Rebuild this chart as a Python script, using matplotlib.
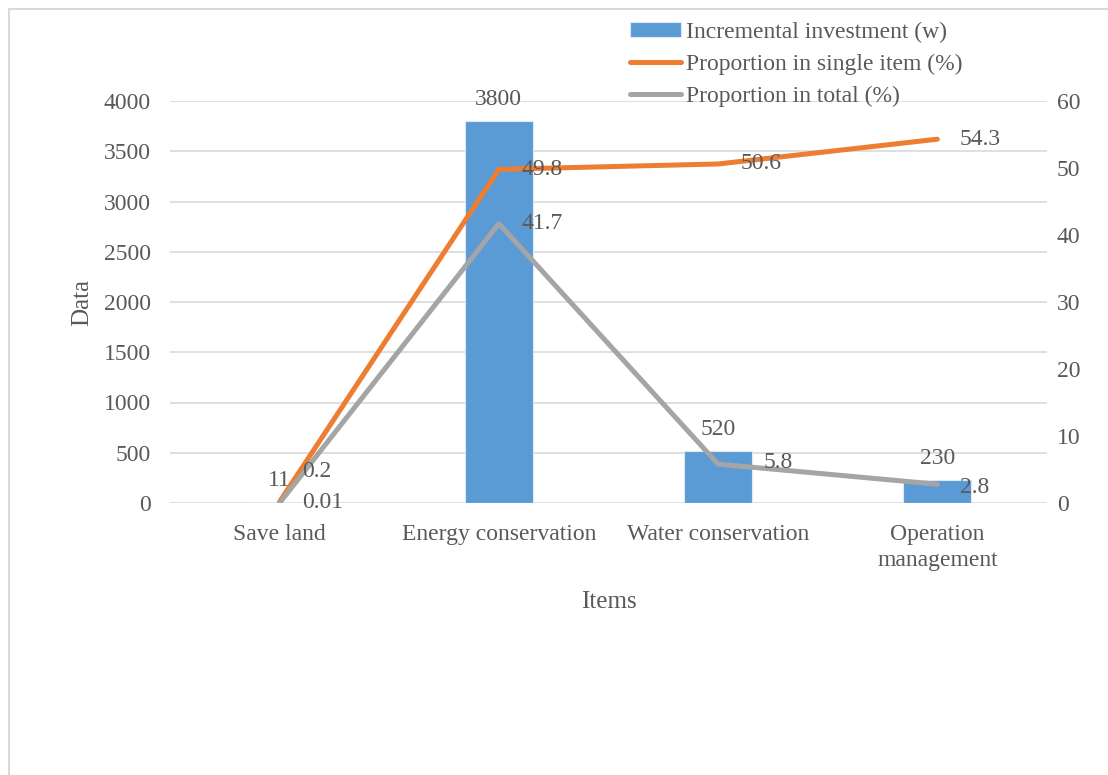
import matplotlib.pyplot as plt
import matplotlib.patches as mpatches
import numpy as np

plt.rcParams['font.family'] = ['Liberation Serif', 'DejaVu Serif']
plt.rcParams['text.color'] = '#595959'

# data
items = ['Save land', 'Energy conservation', 'Water conservation', 'Operation\nmanagement']
investment = [11, 3800, 520, 230]
single_item = [0.2, 49.8, 50.6, 54.3]
total = [0.01, 41.7, 5.8, 2.8]
single_labels = ['0.2', '49.8', '50.6', '54.3']
total_labels = ['0.01', '41.7', '5.8', '2.8']

blue = '#5B9BD5'
orange = '#ED7D31'
grey = '#A5A5A5'
txt = '#595959'
fs = 17

fig = plt.figure(figsize=(11.08, 7.75), dpi=100)
ax = fig.add_axes([170/1108, 1-503/775, 877/1108, 402/775])
x = np.arange(len(items))

bars = ax.bar(x, investment, width=0.31, color=blue, edgecolor='#dbe8f5', linewidth=0.8, zorder=2)
ax.bar_label(bars, labels=[str(v) for v in investment], padding=8, fontsize=fs, color=txt)
ax.set_xlim(-0.5, 3.5)
ax.set_ylim(0, 4000)
ax.set_yticks(np.arange(0, 4001, 500))
ax.set_xticks(x)
ax.set_xticklabels(items, fontsize=fs, color=txt, linespacing=1.35)
ax.tick_params(axis='y', length=0, pad=14, labelsize=fs, labelcolor=txt)
ax.tick_params(axis='x', length=0, pad=15)
ax.grid(axis='y', color='#d9d9d9', linewidth=1.2, zorder=0)
ax.set_axisbelow(True)
for s in ax.spines.values():
    s.set_visible(False)
ax.set_ylabel('Data', fontsize=fs + 1, color=txt, labelpad=7)
ax.set_xlabel('Items', fontsize=fs + 1, color=txt, labelpad=14)

ax2 = ax.twinx()
l1, = ax2.plot(x, single_item, color=orange, linewidth=3.6, solid_capstyle='round', solid_joinstyle='round')
l2, = ax2.plot(x, total, color=grey, linewidth=3.6, solid_capstyle='round', solid_joinstyle='round')
ax2.set_ylim(0, 60)
ax2.set_yticks(np.arange(0, 61, 10))
ax2.tick_params(axis='y', length=0, pad=7, labelsize=fs, labelcolor=txt)
for s in ax2.spines.values():
    s.set_visible(False)

# data labels to the right of the points
single_off = [(16, 22), (16, 0), (16, 0), (16, 0)]
total_off = [(16, 0), (16, 0), (33, 1), (16, -2)]
for i in range(len(items)):
    ax2.annotate(single_labels[i], (x[i], single_item[i]), xytext=single_off[i],
                 textcoords='offset points', ha='left', va='center', fontsize=fs, color=txt)
    ax2.annotate(total_labels[i], (x[i], total[i]), xytext=total_off[i],
                 textcoords='offset points', ha='left', va='center', fontsize=fs, color=txt)

fig.legend([bars, l1, l2],
           ['Incremental investment (w)', 'Proportion in single item (%)', 'Proportion in total (%)'],
           loc='upper left', bbox_to_anchor=(618/1108, 1-10/775), frameon=False, fontsize=fs,
           handlelength=2.15, handleheight=0.55, handletextpad=0.25, labelspacing=0.45,
           borderpad=0, labelcolor=txt)

# outer frame of the chart area
fig.patches.append(mpatches.Rectangle((9/1108, -0.1), 1.2, 1.1 - 9/775, transform=fig.transFigure,
                                      fill=False, edgecolor='#d9d9d9', linewidth=1.5))

fig.savefig('out.png', dpi=100)
